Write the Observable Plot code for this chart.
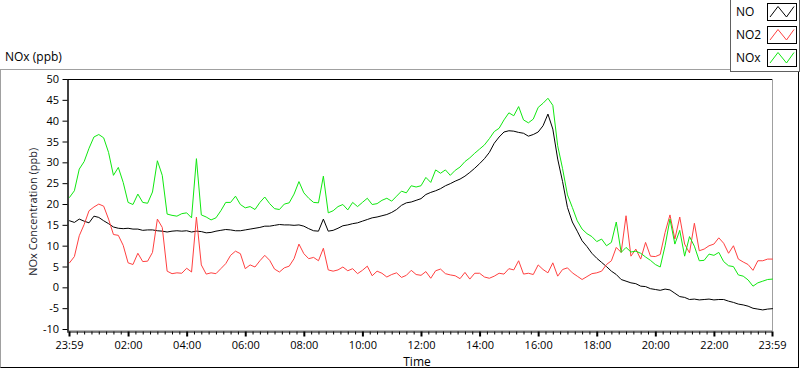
<!DOCTYPE html>
<html><head><meta charset="utf-8">
<script src="https://cdn.jsdelivr.net/npm/d3@7"></script>
<script src="https://cdn.jsdelivr.net/npm/@observablehq/plot@0.6"></script>
<style>
html,body{margin:0;padding:0;background:#fff;}
#wrap{position:relative;width:800px;height:369px;overflow:hidden;font-family:"Open Sans",sans-serif;color:#000;}
#frame{position:absolute;left:0;top:69px;width:797px;height:297px;border-top:1px solid #a0a0a0;border-left:1px solid #a0a0a0;border-right:1px solid #000;border-bottom:1px solid #000;}
#title{position:absolute;left:5px;top:50px;font-size:12px;line-height:14px;}
#legend{position:absolute;left:730px;top:-1px;width:68px;height:72px;background:#fff;border:1px solid #606060;border-top:none;}
.item{position:absolute;left:5px;font-size:12px;line-height:14px;}
.sw{position:absolute;left:36px;}
#chart{position:absolute;left:0;top:0;}
</style></head>
<body><div id="wrap"><div id="frame"></div><div id="chart"></div><div id="title">NOx (ppb)</div><div id="legend"></div></div>
<script>
const seriesNames = ["NO", "NO2", "NOx"];
const seriesColors = ["#000000", "#ff4040", "#10e810"];
// values every 10 minutes from 23:59 (0) to 23:59 (1440)
const noValues = [
16.1,15.7,16.5,16.0,15.6,17.2,16.9,16.1,15.4,14.6,14.3,14.2,14.3,14.1,14.1,13.8,13.9,13.9,13.7,13.6,13.4,13.6,13.7,13.6,13.7,
13.4,13.6,13.5,13.2,13.3,13.6,13.8,14.0,13.9,13.7,13.7,13.9,14.1,14.3,14.5,14.8,14.8,15.0,15.2,15.1,15.1,15.0,15.1,14.8,
14.2,13.7,13.6,16.5,13.6,13.8,14.3,14.9,15.1,15.4,15.6,16.0,16.4,16.8,17.0,17.3,17.6,18.1,18.8,19.8,20.4,20.6,21.0,21.4,
22.4,22.9,23.3,23.8,24.5,25.0,25.6,26.1,26.8,27.7,28.7,29.8,31.0,32.5,34.7,36.2,37.4,37.7,37.6,37.3,37.1,36.4,36.8,37.4,
38.9,41.7,38.1,30.9,25.5,19.3,15.8,13.6,11.3,9.9,8.3,7.1,6.1,5.1,4.0,3.2,2.0,1.6,1.2,1.0,0.4,0.3,-0.2,-0.4,
-0.6,-0.3,-0.5,-1.3,-2.1,-2.3,-2.8,-2.7,-2.9,-2.8,-2.7,-2.9,-2.8,-2.8,-3.2,-3.5,-3.9,-4.1,-4.4,-4.9,-5.1,-5.3,-5.1,-5.0];
const no2Values = [
6.0,7.5,12.5,15.2,18.5,19.4,20.1,19.6,16.5,12.8,12.6,10.2,6.0,5.6,8.3,6.3,6.4,8.5,16.5,14.5,4.0,3.4,3.6,3.5,4.7,
3.8,17.0,5.5,3.3,3.6,3.4,4.6,5.8,7.8,8.8,8.2,4.6,5.5,5.0,6.5,7.8,6.6,4.5,3.8,4.8,5.2,7.0,10.5,8.2,
7.0,7.3,6.5,9.5,4.3,4.0,4.3,5.0,4.1,4.6,3.4,4.2,5.2,2.9,4.0,3.5,2.6,3.2,3.6,2.5,3.0,4.2,3.2,3.0,
3.9,2.3,4.1,4.5,3.4,3.1,2.9,2.2,3.7,2.1,3.5,3.5,2.6,2.3,2.8,3.5,3.3,4.6,4.3,6.5,3.3,3.5,3.2,5.5,
4.4,3.6,6.0,2.8,4.4,4.8,3.6,2.8,2.0,2.7,3.4,3.6,4.0,5.6,6.5,9.7,8.5,17.3,7.6,9.3,6.9,10.9,7.6,7.5,
8.0,13.3,17.5,11.7,17.0,10.5,8.4,15.5,8.9,9.3,10.1,10.5,12.0,10.7,8.3,10.1,6.9,6.2,5.6,4.2,6.5,6.5,6.9,6.9];
const noxValues = [
21.7,23.3,28.5,30.3,33.5,36.2,36.8,36.0,32.5,27.0,28.9,25.3,20.5,20.0,22.5,20.5,20.3,23.0,30.5,27.0,17.7,17.4,17.2,17.8,18.0,
16.8,31.0,17.5,17.0,16.3,16.8,18.5,20.5,20.5,22.0,20.0,19.2,19.5,18.8,20.5,21.8,20.2,19.0,18.8,20.1,20.4,22.5,25.5,22.8,
21.5,20.5,20.4,26.8,18.0,18.5,19.5,20.0,18.7,20.5,19.5,20.5,21.5,20.0,20.2,21.0,21.5,20.8,22.0,23.2,22.8,24.5,24.2,24.5,
26.5,25.3,28.3,27.5,28.3,27.0,28.2,29.0,30.3,31.2,32.3,33.3,34.3,35.8,37.5,38.3,40.3,42.0,41.3,43.5,40.3,39.6,40.5,43.3,
44.3,45.5,43.8,34.1,28.6,22.3,19.3,16.1,14.1,13.0,12.3,11.1,11.7,10.1,10.9,15.8,8.5,9.7,8.6,8.8,8.3,7.4,6.6,5.6,
5.0,10.1,16.5,10.5,13.8,7.6,12.3,10.0,6.5,6.6,8.1,7.8,8.5,6.3,5.3,5.1,3.1,2.8,1.9,0.4,1.2,1.6,2.0,2.1];
const xTickMinutes = [0,121,241,361,481,601,721,841,961,1081,1201,1321,1440];
const xTickLabels = ["23:59","02:00","04:00","06:00","08:00","10:00","12:00","14:00","16:00","18:00","20:00","22:00","23:59"];
const yTicks = [-10,-5,0,5,10,15,20,25,30,35,40,45,50];

const minutes = d3.range(0, 1441, 10);
const allValues = [noValues, no2Values, noxValues];
const rows = [];
allValues.forEach((vals, s) => vals.forEach((v, i) => rows.push({t: minutes[i], v, name: seriesNames[s]})));
const minorTicks = d3.range(16, 1440, 15).filter(m => !xTickMinutes.includes(m));

const chart = Plot.plot({
  width: 800, height: 369,
  marginLeft: 69, marginRight: 28, marginTop: 79, marginBottom: 37.5,
  style: {fontFamily: "Open Sans", fontSize: "11px", background: "transparent", color: "#000", overflow: "visible"},
  x: {domain: [0, 1440], axis: null},
  y: {domain: [-10.6, 50], axis: null},
  marks: [
    Plot.ruleY([50], {stroke: "#000", strokeWidth: 1, insetLeft: -1.5}),
    Plot.ruleX([1440], {stroke: "#a0a0a0", strokeWidth: 1}),
    Plot.ruleY([-10.3], {stroke: "#a0a0a0", strokeWidth: 1}),
    ...seriesNames.map((n, s) => Plot.line(rows.filter(r => r.name === n), {x: "t", y: "v", stroke: seriesColors[s], strokeWidth: 1, curve: "linear"})),
    Plot.ruleX([0], {stroke: "#000", strokeWidth: 1.5, dx: -1.5}),
    Plot.ruleY([-10.6], {stroke: "#000", strokeWidth: 1, insetLeft: -2}),
    Plot.axisY({ticks: yTicks, tickSize: 5, dx: -1.5, tickFormat: d => String(d), fontSize: 11, label: null}),
    Plot.axisX(minorTicks, {tickSize: 3, tickFormat: () => "", label: null}),
    Plot.axisX(xTickMinutes, {tickSize: 5, strokeWidth: 2, tickFormat: d => xTickLabels[xTickMinutes.indexOf(d)], fontSize: 11, label: null}),
    Plot.text(["NOx Concentration (ppb)"], {frameAnchor: "left", rotate: -90, dx: -36, dy: 6, textAnchor: "middle", lineAnchor: "middle", fontSize: 11, fill: "#1a1a2a"}),
    Plot.text(["Time"], {frameAnchor: "bottom", dx: -4, dy: 30.5, textAnchor: "middle", lineAnchor: "middle", fontSize: 12})
  ]
});
document.getElementById("chart").appendChild(chart);

// legend
const legend = document.getElementById("legend");
const ys = [4, 27, 50];
seriesNames.forEach((n, i) => {
  const lab = document.createElement("div");
  lab.className = "item";
  lab.style.top = (ys[i] + 2) + "px";
  lab.textContent = n;
  legend.appendChild(lab);
  const ns = "http://www.w3.org/2000/svg";
  const sv = document.createElementNS(ns, "svg");
  sv.setAttribute("width", 30); sv.setAttribute("height", 18);
  sv.setAttribute("class", "sw");
  sv.style.top = ys[i] + "px";
  const r = document.createElementNS(ns, "rect");
  r.setAttribute("x", 0.5); r.setAttribute("y", 0.5); r.setAttribute("width", 29); r.setAttribute("height", 17);
  r.setAttribute("fill", "#fff"); r.setAttribute("stroke", "#000");
  sv.appendChild(r);
  const p = document.createElementNS(ns, "polyline");
  p.setAttribute("points", "3,14 11,3.5 19.5,14 27,3.5");
  p.setAttribute("fill", "none"); p.setAttribute("stroke", seriesColors[i]); p.setAttribute("stroke-width", 1);
  sv.appendChild(p);
  legend.appendChild(sv);
});
</script></body></html>
